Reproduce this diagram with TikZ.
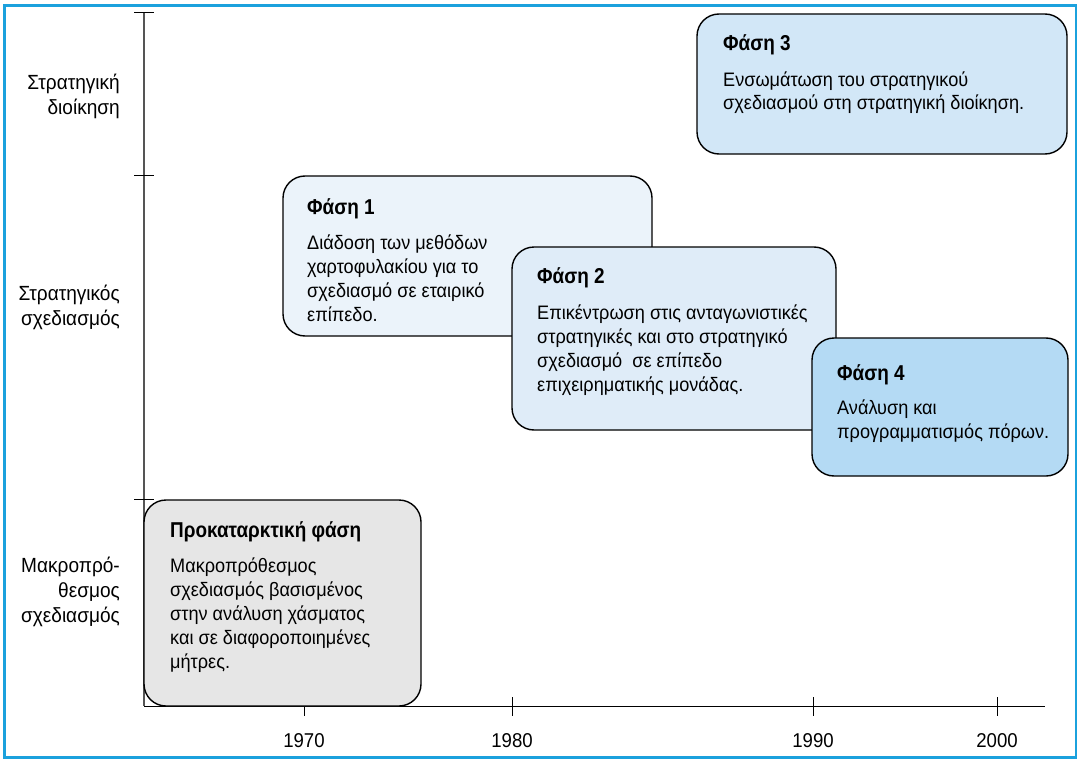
\documentclass[tikz,border=0pt]{standalone}
\usepackage{fontspec}
\setmainfont{Liberation Sans}[FakeStretch=0.93, BoldFeatures={FakeStretch=0.88}]
\definecolor{framecol}{HTML}{1BA1DD}
\definecolor{axisgray}{HTML}{555555}
\definecolor{fillpre}{HTML}{E6E6E6}
\definecolor{fillone}{HTML}{EBF3FA}
\definecolor{filltwo}{HTML}{DFECF8}
\definecolor{fillthree}{HTML}{D2E7F7}
\definecolor{fillfour}{HTML}{B4DAF4}
\begin{document}
\begin{tikzpicture}[x=1pt,y=-1pt,
  phasebox/.style={draw=black, line width=1.4pt, rounded corners=22pt,
    inner sep=0pt, outer sep=0pt, anchor=north west},
  titletext/.style={anchor=base west, inner sep=0pt,
    font=\fontsize{21.5}{24}\selectfont\bfseries},
  % multi-line nodes: the base anchor sits on the last line
  bodytext/.style={anchor=base west, align=left, inner sep=0pt,
    font=\fontsize{19.5}{24}\selectfont},
  leveltext/.style={anchor=base east, align=right, inner sep=0pt,
    font=\fontsize{20.5}{25}\selectfont},
  yeartext/.style={anchor=base, inner sep=0pt,
    font=\fontsize{20}{24}\selectfont},
  tickline/.style={line width=1pt, black}]
\useasboundingbox (0,0) rectangle (1079,760);

% outer frame
\draw[framecol, line width=2.6pt] (4.5,5.5) rectangle (1076,757.5);

% axes
\coordinate (vtop) at (144,13);
\coordinate (origin) at (144,706);
\coordinate (hend) at (1045,706);
\draw[axisgray, line width=1.2pt] (vtop) -- (origin);
\draw[black, line width=1pt] (origin) -- (hend);
\foreach \y in {13,175,499}
  \draw[tickline] (134,\y) -- (154,\y);
\foreach \x/\yr in {304/1970,512/1980,813/1990,997/2000}{
  \draw[tickline] (\x,697) -- (\x,716);
  \node[yeartext] (yr\yr) at (\x,747) {\yr};
}

% level labels
\node[leveltext] (lvlmgmt) at (120,114) {Στρατηγική\\διοίκηση};
\node[leveltext] (lvlplan) at (120,325) {Στρατηγικός\\σχεδιασμός};
\node[leveltext] (lvllong) at (120,622) {Μακροπρό-\\θεσμος\\σχεδιασμός};

% preliminary phase
\node[phasebox, fill=fillpre, minimum width=277pt, minimum height=206pt] (p0) at (144,500) {};
\node[titletext] (p0title) at (170,537) {Προκαταρκτική φάση};
\node[bodytext] (p0body) at (170,668) {Μακροπρόθεσμος\\σχεδιασμός βασισμένος\\στην ανάλυση χάσματος\\και σε διαφοροποιημένες\\μήτρες.};

% phase 1
\node[phasebox, fill=fillone, minimum width=369pt, minimum height=160pt] (p1) at (283,176) {};
\node[titletext] (p1title) at (307,214) {Φάση 1};
\node[bodytext] (p1body) at (307,321) {Διάδοση των μεθόδων\\χαρτοφυλακίου για το\\σχεδιασμό σε εταιρικό\\επίπεδο.};

% phase 2
\node[phasebox, fill=filltwo, minimum width=324pt, minimum height=183pt] (p2) at (512,247) {};
\node[titletext] (p2title) at (537,283) {Φάση 2};
\node[bodytext] (p2body) at (537,391) {Επικέντρωση στις ανταγωνιστικές\\στρατηγικές και στο στρατηγικό\\σχεδιασμό \ σε επίπεδο\\επιχειρηματικής μονάδας.};

% phase 3
\node[phasebox, fill=fillthree, minimum width=370pt, minimum height=140pt] (p3) at (697,14) {};
\node[titletext] (p3title) at (723,51) {Φάση 3};
\node[bodytext] (p3body) at (723,110) {Ενσωμάτωση του στρατηγικού\\σχεδιασμού στη στρατηγική διοίκηση.};

% phase 4
\node[phasebox, fill=fillfour, minimum width=256pt, minimum height=138pt] (p4) at (812,338) {};
\node[titletext] (p4title) at (837,380) {Φάση 4};
\node[bodytext] (p4body) at (837,438) {Ανάλυση και\\προγραμματισμός πόρων.};
\end{tikzpicture}
\end{document}
